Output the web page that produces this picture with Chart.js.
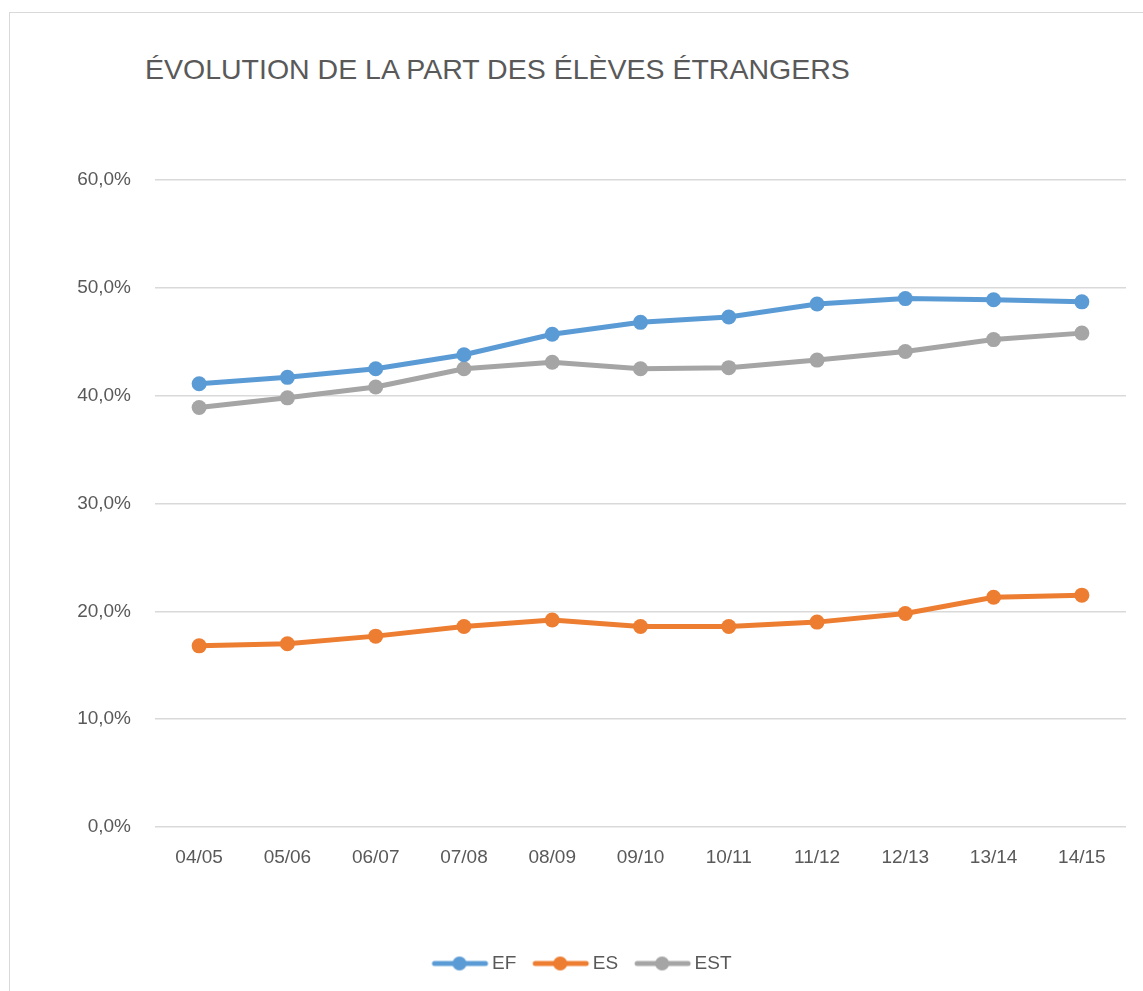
<!DOCTYPE html>
<html lang="fr">
<head>
<meta charset="utf-8">
<title>Évolution de la part des élèves étrangers</title>
<script src="https://cdn.jsdelivr.net/npm/chart.js@4/dist/chart.umd.min.js"></script>
<style>
  html, body { margin: 0; padding: 0; background: #fff; overflow: hidden; }
  #wrap { position: relative; width: 1143px; height: 991px; }
  #frame {
    position: absolute; left: 9px; top: 12px; width: 1200px; height: 1100px;
    border: 1.5px solid #d9d9d9; box-sizing: border-box;
  }
  #title {
    position: absolute; left: 145px; top: 55px;
    font-family: 'Liberation Sans', sans-serif;
    font-size: 28.5px; color: #595959; white-space: nowrap; line-height: 1;
  }
  canvas { position: absolute; left: 0; top: 0; }
</style>
</head>
<body>
<div id="wrap">
  <div id="frame"></div>
  <div id="title">ÉVOLUTION DE LA PART DES ÉLÈVES ÉTRANGERS</div>
  <canvas id="chart" width="1143" height="991"></canvas>
</div>
<script>
// ----------------------
// Data
// ----------------------
const years = ['04/05', '05/06', '06/07', '07/08', '08/09', '09/10', '10/11', '11/12', '12/13', '13/14', '14/15'];
const ef = [41.1, 41.7, 42.5, 43.8, 45.7, 46.8, 47.3, 48.5, 49.0, 48.9, 48.7];
const es = [16.8, 17.0, 17.7, 18.6, 19.2, 18.6, 18.6, 19.0, 19.8, 21.3, 21.5];
const est = [38.9, 39.8, 40.8, 42.5, 43.1, 42.5, 42.6, 43.3, 44.1, 45.2, 45.8];
const yTicks = [0, 10, 20, 30, 40, 50, 60];

const colors = {
  ef: '#5B9BD5',
  es: '#ED7D31',
  est: '#A5A5A5',
  grid: '#d9d9d9',
  text: '#595959',
};

const FONT = "'Liberation Sans', sans-serif";

// legend marker: a short line with a dot in the middle, like the office legend
function legendMarker(color) {
  const c = document.createElement('canvas');
  c.width = 60;
  c.height = 18;
  const g = c.getContext('2d');
  g.strokeStyle = color;
  g.lineWidth = 5;
  g.lineCap = 'round';
  g.beginPath();
  g.moveTo(5, 9);
  g.lineTo(56, 9);
  g.stroke();
  g.fillStyle = color;
  g.beginPath();
  g.arc(30, 9, 7, 0, Math.PI * 2);
  g.fill();
  return c;
}

function series(label, values, color) {
  return {
    label: label,
    data: values,
    borderColor: color,
    backgroundColor: color,
    borderWidth: 5,
    pointRadius: 7.5,
    pointHoverRadius: 7.5,
    pointBackgroundColor: color,
    pointBorderWidth: 0,
    tension: 0,
    marker: legendMarker(color),
  };
}

new Chart(document.getElementById('chart'), {
  type: 'line',
  data: {
    labels: years,
    datasets: [
      series('EF', ef, colors.ef),
      series('ES', es, colors.es),
      series('EST', est, colors.est),
    ],
  },
  options: {
    responsive: false,
    animation: false,
    layout: { padding: { top: 180, right: 17, bottom: 8, left: 42 } },
    plugins: {
      title: { display: false },
      tooltip: { enabled: false },
      legend: {
        position: 'bottom',
        labels: {
          usePointStyle: true,
          pointStyleWidth: 46,
          padding: 21,
          color: colors.text,
          font: { family: FONT, size: 19 },
          generateLabels: (chart) =>
            chart.data.datasets.map((ds, i) => ({
              text: ds.label,
              fillStyle: ds.borderColor,
              strokeStyle: ds.borderColor,
              lineWidth: 0,
              pointStyle: ds.marker,
              fontColor: colors.text,
              datasetIndex: i,
            })),
        },
      },
    },
    scales: {
      x: {
        offset: true,
        grid: { display: false, drawTicks: false },
        border: { display: false },
        ticks: {
          color: colors.text,
          font: { family: FONT, size: 19 },
          padding: 19,
          maxRotation: 0,
        },
        afterFit: (scale) => { scale.height = 106; },
      },
      y: {
        min: 0,
        max: 60,
        grid: { color: colors.grid, lineWidth: 1.5, drawTicks: false },
        border: { display: false },
        afterBuildTicks: (scale) => { scale.ticks = yTicks.map((v) => ({ value: v })); },
        ticks: {
          color: colors.text,
          font: { family: FONT, size: 19 },
          padding: 24,
          callback: (v) => v.toFixed(1).replace('.', ',') + '%',
        },
        afterFit: (scale) => { scale.width = 113; },
      },
    },
  },
});
</script>
</body>
</html>
